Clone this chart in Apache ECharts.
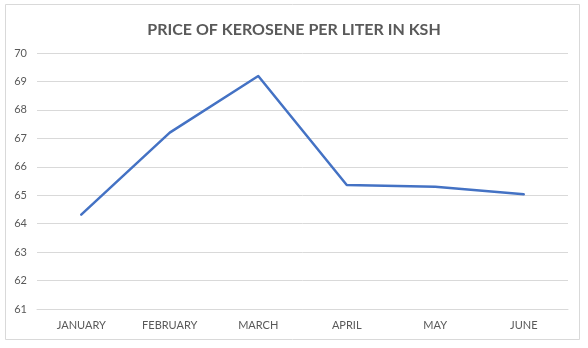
<!DOCTYPE html>
<html>
<head>
<meta charset="utf-8">
<script src="https://cdn.jsdelivr.net/npm/echarts@6/dist/echarts.min.js"></script>
<style>
  html, body { margin: 0; padding: 0; background: #fff; }
  #chart { width: 588px; height: 348px; }
</style>
</head>
<body>
<div id="chart"></div>
<script>
// Monthly kerosene price, KSH per liter
const months = ['JANUARY', 'FEBRUARY', 'MARCH', 'APRIL', 'MAY', 'JUNE'];
const prices = [64.32, 67.2, 69.19, 65.36, 65.3, 65.03];
const yMin = 61;
const yMax = 70;
const yStep = 1;

const textGray = '#595959';
const fontFamily = 'Lato, "Open Sans", sans-serif';

const chart = echarts.init(document.getElementById('chart'), null, { renderer: 'canvas' });
chart.setOption({
  animation: false,
  backgroundColor: '#ffffff',
  graphic: [{
    type: 'rect',
    shape: { x: 5.5, y: 4.5, width: 574, height: 335 },
    style: { fill: 'none', stroke: '#d9d9d9', lineWidth: 1 },
    silent: true
  }],
  title: {
    text: 'PRICE OF KEROSENE PER LITER IN KSH',
    left: 'center',
    top: 17,
    textStyle: { color: textGray, fontSize: 16, fontWeight: 'bold', fontFamily: fontFamily }
  },
  grid: { left: 37, right: 20, top: 53, bottom: 39, containLabel: false },
  xAxis: {
    type: 'category',
    data: months,
    boundaryGap: true,
    axisLine: { show: true, lineStyle: { color: '#d9d9d9', width: 1 } },
    axisTick: { show: false },
    axisLabel: { color: textGray, fontSize: 11, fontFamily: fontFamily, margin: 11 }
  },
  yAxis: {
    type: 'value',
    min: yMin,
    max: yMax,
    interval: yStep,
    axisLine: { show: false },
    axisTick: { show: false },
    axisLabel: { color: textGray, fontSize: 11, fontFamily: fontFamily, margin: 10 },
    splitLine: { lineStyle: { color: '#d9d9d9', width: 1 } }
  },
  series: [{
    type: 'line',
    data: prices,
    symbol: 'none',
    lineStyle: { color: '#4472C4', width: 2.5, cap: 'round', join: 'round' }
  }]
});
</script>
</body>
</html>
